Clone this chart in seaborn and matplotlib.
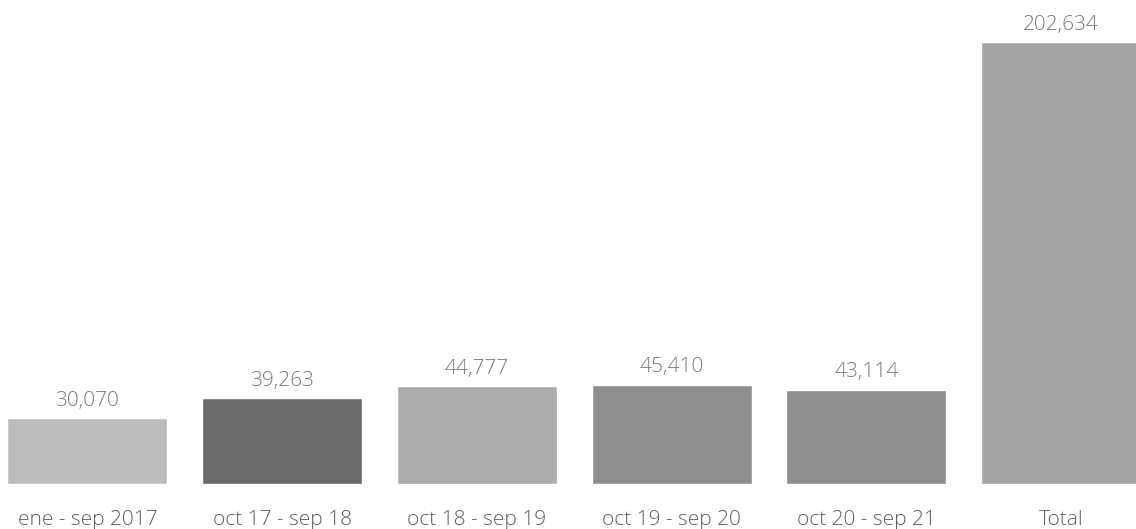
import matplotlib
matplotlib.use("Agg")
import matplotlib.pyplot as plt
import seaborn as sns
import pandas as pd

periods = ["ene - sep 2017", "oct 17 - sep 18", "oct 18 - sep 19",
           "oct 19 - sep 20", "oct 20 - sep 21", "Total"]
counts = [30070, 39263, 44777, 45410, 43114, 202634]
bar_colors = ["#bbbbbb", "#6a6a6a", "#acacac", "#8e8e8e", "#8e8e8e", "#a5a5a5"]

df = pd.DataFrame({"period": periods, "count": counts})

sns.set_theme(style="white")
plt.rcParams["font.family"] = ["Open Sans", "DejaVu Sans"]
plt.rcParams["font.weight"] = "light"

fig = plt.figure(figsize=(11.36, 5.29), dpi=100)
ax = fig.add_axes([0, 45 / 529, 1, 1 - 45 / 529])

sns.barplot(data=df, x="period", y="count", hue="period", palette=bar_colors,
            width=0.822, saturation=1, legend=False, ax=ax)

# value labels above each bar
for i, v in enumerate(counts):
    ax.annotate(f"{v:,}", (i, v), xytext=(0, 9), textcoords="offset points",
                ha="center", va="baseline", fontsize=15, color="#7a7a7a")

ax.set_xlim(-0.449, 5.385)
ax.set_ylim(0, 221900)
ax.set_xlabel("")
ax.set_ylabel("")
ax.set_yticks([])
ax.tick_params(axis="x", length=0, pad=18.5, labelsize=15, labelcolor="#606060")
sns.despine(ax=ax, left=True, bottom=True)

fig.savefig("out.png", dpi=100)
